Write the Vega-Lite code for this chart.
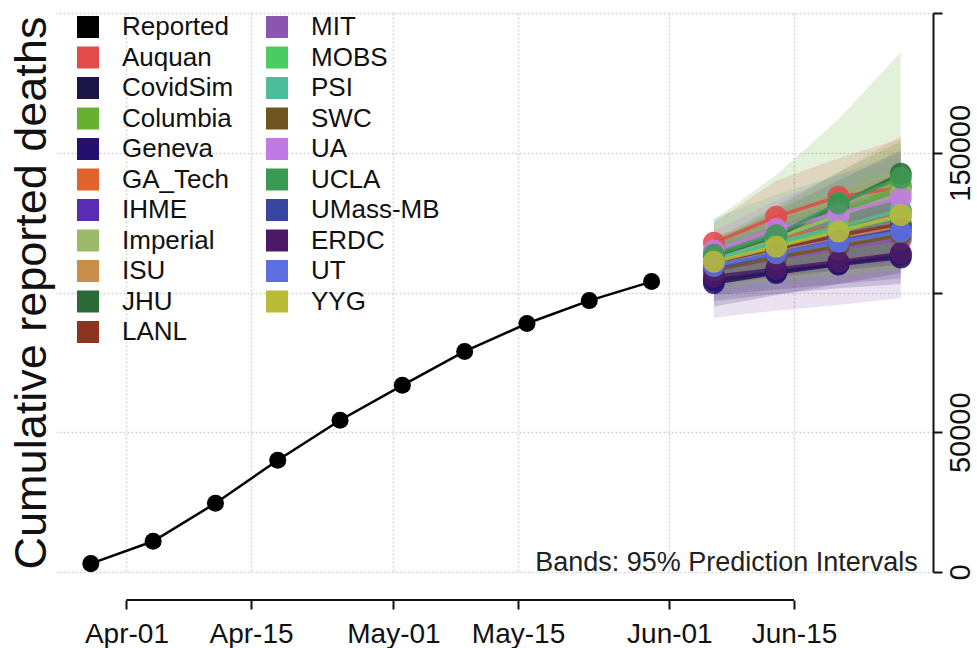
{
  "$schema": "https://vega.github.io/schema/vega-lite/v6.json",
  "width": 877,
  "height": 559,
  "autosize": {"type": "none"},
  "padding": {"left": 56, "top": 13, "right": 44, "bottom": 76},
  "background": "white",
  "config": {"view": {"stroke": null}, "font": "Liberation Sans"},
  "datasets": {
    "rows": [
      {"model": "Reported", "date": "2020-03-28", "mean": 3000},
      {"model": "Reported", "date": "2020-04-04", "mean": 11000},
      {"model": "Reported", "date": "2020-04-11", "mean": 24600},
      {"model": "Reported", "date": "2020-04-18", "mean": 40000},
      {"model": "Reported", "date": "2020-04-25", "mean": 54300},
      {"model": "Reported", "date": "2020-05-02", "mean": 66800},
      {"model": "Reported", "date": "2020-05-09", "mean": 78900},
      {"model": "Reported", "date": "2020-05-16", "mean": 88900},
      {"model": "Reported", "date": "2020-05-23", "mean": 97100},
      {"model": "Reported", "date": "2020-05-30", "mean": 103900},

      {"model": "Auquan", "date": "2020-06-06", "mean": 117800, "lo": 108000, "hi": 125000},
      {"model": "Auquan", "date": "2020-06-13", "mean": 127100, "lo": 113000, "hi": 140000},
      {"model": "Auquan", "date": "2020-06-20", "mean": 134300, "lo": 116000, "hi": 148000},
      {"model": "Auquan", "date": "2020-06-27", "mean": 137500, "lo": 118000, "hi": 155000},

      {"model": "CovidSim", "date": "2020-06-06", "mean": 104500, "lo": 95000, "hi": 112000},
      {"model": "CovidSim", "date": "2020-06-13", "mean": 107500, "lo": 99000, "hi": 118000},
      {"model": "CovidSim", "date": "2020-06-20", "mean": 110500, "lo": 103000, "hi": 124000},
      {"model": "CovidSim", "date": "2020-06-27", "mean": 113500, "lo": 107000, "hi": 130000},

      {"model": "Columbia", "date": "2020-06-06", "mean": 111000, "lo": 102000, "hi": 126000},
      {"model": "Columbia", "date": "2020-06-13", "mean": 119000, "lo": 106000, "hi": 142000},
      {"model": "Columbia", "date": "2020-06-20", "mean": 128000, "lo": 110000, "hi": 162000},
      {"model": "Columbia", "date": "2020-06-27", "mean": 138500, "lo": 113000, "hi": 186000},

      {"model": "Geneva", "date": "2020-06-06", "mean": 103400, "lo": 97000, "hi": 110000},
      {"model": "Geneva", "date": "2020-06-13", "mean": 107000, "lo": 99500, "hi": 115000},
      {"model": "Geneva", "date": "2020-06-20", "mean": 110000, "lo": 101500, "hi": 120000},
      {"model": "Geneva", "date": "2020-06-27", "mean": 112500, "lo": 103000, "hi": 124000},

      {"model": "GA_Tech", "date": "2020-06-06", "mean": 112500, "lo": 106000, "hi": 119000},
      {"model": "GA_Tech", "date": "2020-06-13", "mean": 119000, "lo": 110000, "hi": 128000},
      {"model": "GA_Tech", "date": "2020-06-20", "mean": 124000, "lo": 113000, "hi": 136000},
      {"model": "GA_Tech", "date": "2020-06-27", "mean": 129000, "lo": 116000, "hi": 143000},

      {"model": "IHME", "date": "2020-06-06", "mean": 110000, "lo": 104000, "hi": 117000},
      {"model": "IHME", "date": "2020-06-13", "mean": 115000, "lo": 107000, "hi": 124000},
      {"model": "IHME", "date": "2020-06-20", "mean": 119500, "lo": 109000, "hi": 131000},
      {"model": "IHME", "date": "2020-06-27", "mean": 123500, "lo": 111000, "hi": 138000},

      {"model": "Imperial", "date": "2020-06-06", "mean": 112000, "lo": 106000, "hi": 118000},
      {"model": "Imperial", "date": "2020-06-13", "mean": 119500, "lo": 110000, "hi": 130000},
      {"model": "Imperial", "date": "2020-06-20", "mean": 127500, "lo": 114000, "hi": 140000},
      {"model": "Imperial", "date": "2020-06-27", "mean": 135500, "lo": 117000, "hi": 150000},

      {"model": "ISU", "date": "2020-06-06", "mean": 109500, "lo": 102000, "hi": 118000},
      {"model": "ISU", "date": "2020-06-13", "mean": 114500, "lo": 105000, "hi": 130000},
      {"model": "ISU", "date": "2020-06-20", "mean": 119000, "lo": 108000, "hi": 143000},
      {"model": "ISU", "date": "2020-06-27", "mean": 124000, "lo": 110000, "hi": 156000},

      {"model": "JHU", "date": "2020-06-06", "mean": 113000, "lo": 107000, "hi": 118000},
      {"model": "JHU", "date": "2020-06-13", "mean": 120000, "lo": 112000, "hi": 129000},
      {"model": "JHU", "date": "2020-06-20", "mean": 131500, "lo": 117000, "hi": 140000},
      {"model": "JHU", "date": "2020-06-27", "mean": 142500, "lo": 121000, "hi": 151000},

      {"model": "LANL", "date": "2020-06-06", "mean": 111000, "lo": 106000, "hi": 116000},
      {"model": "LANL", "date": "2020-06-13", "mean": 116000, "lo": 109000, "hi": 123000},
      {"model": "LANL", "date": "2020-06-20", "mean": 120500, "lo": 112000, "hi": 130000},
      {"model": "LANL", "date": "2020-06-27", "mean": 124500, "lo": 114000, "hi": 136000},

      {"model": "MIT", "date": "2020-06-06", "mean": 108000, "lo": 91000, "hi": 120000},
      {"model": "MIT", "date": "2020-06-13", "mean": 112000, "lo": 93500, "hi": 126000},
      {"model": "MIT", "date": "2020-06-20", "mean": 115500, "lo": 95500, "hi": 132000},
      {"model": "MIT", "date": "2020-06-27", "mean": 119000, "lo": 98000, "hi": 138000},

      {"model": "MOBS", "date": "2020-06-06", "mean": 111500, "lo": 106000, "hi": 117000},
      {"model": "MOBS", "date": "2020-06-13", "mean": 117000, "lo": 110000, "hi": 124000},
      {"model": "MOBS", "date": "2020-06-20", "mean": 122500, "lo": 113000, "hi": 132000},
      {"model": "MOBS", "date": "2020-06-27", "mean": 127000, "lo": 116000, "hi": 139000},

      {"model": "PSI", "date": "2020-06-06", "mean": 112000, "lo": 100000, "hi": 126500},
      {"model": "PSI", "date": "2020-06-13", "mean": 118000, "lo": 103000, "hi": 135000},
      {"model": "PSI", "date": "2020-06-20", "mean": 123500, "lo": 106000, "hi": 142000},
      {"model": "PSI", "date": "2020-06-27", "mean": 129500, "lo": 108000, "hi": 148000},

      {"model": "SWC", "date": "2020-06-06", "mean": 108000, "lo": 103000, "hi": 113000},
      {"model": "SWC", "date": "2020-06-13", "mean": 112500, "lo": 106000, "hi": 119000},
      {"model": "SWC", "date": "2020-06-20", "mean": 116500, "lo": 108000, "hi": 125000},
      {"model": "SWC", "date": "2020-06-27", "mean": 120500, "lo": 110000, "hi": 131000},

      {"model": "UA", "date": "2020-06-06", "mean": 115000, "lo": 108000, "hi": 122000},
      {"model": "UA", "date": "2020-06-13", "mean": 122700, "lo": 112000, "hi": 133000},
      {"model": "UA", "date": "2020-06-20", "mean": 128400, "lo": 115000, "hi": 142000},
      {"model": "UA", "date": "2020-06-27", "mean": 133800, "lo": 118000, "hi": 150000},

      {"model": "UCLA", "date": "2020-06-06", "mean": 113500, "lo": 109000, "hi": 119000},
      {"model": "UCLA", "date": "2020-06-13", "mean": 120500, "lo": 115000, "hi": 131000},
      {"model": "UCLA", "date": "2020-06-20", "mean": 132000, "lo": 121000, "hi": 143000},
      {"model": "UCLA", "date": "2020-06-27", "mean": 141000, "lo": 126000, "hi": 154000},

      {"model": "UMass-MB", "date": "2020-06-06", "mean": 109000, "lo": 103000, "hi": 115000},
      {"model": "UMass-MB", "date": "2020-06-13", "mean": 114000, "lo": 105500, "hi": 123000},
      {"model": "UMass-MB", "date": "2020-06-20", "mean": 118500, "lo": 108000, "hi": 130000},
      {"model": "UMass-MB", "date": "2020-06-27", "mean": 122500, "lo": 110000, "hi": 137000},

      {"model": "ERDC", "date": "2020-06-06", "mean": 105700, "lo": 99000, "hi": 112000},
      {"model": "ERDC", "date": "2020-06-13", "mean": 108400, "lo": 101000, "hi": 116000},
      {"model": "ERDC", "date": "2020-06-20", "mean": 111000, "lo": 103000, "hi": 120000},
      {"model": "ERDC", "date": "2020-06-27", "mean": 114000, "lo": 105000, "hi": 124000},

      {"model": "UT", "date": "2020-06-06", "mean": 109500, "lo": 104000, "hi": 115000},
      {"model": "UT", "date": "2020-06-13", "mean": 114000, "lo": 107000, "hi": 121000},
      {"model": "UT", "date": "2020-06-20", "mean": 118200, "lo": 109000, "hi": 127000},
      {"model": "UT", "date": "2020-06-27", "mean": 121800, "lo": 111000, "hi": 133000},

      {"model": "YYG", "date": "2020-06-06", "mean": 111000, "lo": 102000, "hi": 120000},
      {"model": "YYG", "date": "2020-06-13", "mean": 116400, "lo": 104000, "hi": 128000},
      {"model": "YYG", "date": "2020-06-20", "mean": 121800, "lo": 106000, "hi": 136000},
      {"model": "YYG", "date": "2020-06-27", "mean": 127700, "lo": 108000, "hi": 145000}
    ]
  },
  "data": {"name": "rows", "format": {"parse": {"date": "utc:'%Y-%m-%d'"}}},
  "resolve": {"axis": {"y": "independent"}},
  "layer": [
    {
      "transform": [{"filter": "datum.model !== 'Reported'"}],
      "mark": {"type": "area", "fillOpacity": 0.18},
      "encoding": {
        "x": {
          "field": "date", "type": "temporal",
          "scale": {"type": "utc", "domain": [
            {"year": 2020, "month": 3, "date": 24, "hours": 2, "minutes": 6, "utc": true},
            {"year": 2020, "month": 6, "date": 30, "hours": 14, "minutes": 50, "utc": true}
          ], "nice": false},
          "axis": {
            "orient": "bottom", "title": null,
            "values": [
              {"year": 2020, "month": 4, "date": 1, "utc": true},
              {"year": 2020, "month": 4, "date": 15, "utc": true},
              {"year": 2020, "month": 5, "date": 1, "utc": true},
              {"year": 2020, "month": 5, "date": 15, "utc": true},
              {"year": 2020, "month": 6, "date": 1, "utc": true},
              {"year": 2020, "month": 6, "date": 15, "utc": true}
            ],
            "labelExpr": "utcFormat(datum.value, '%b-%d')",
            "offset": 28, "domain": false,
            "tickSize": 9, "tickWidth": 2, "tickColor": "#111",
            "labelFontSize": 28, "labelColor": "#111", "labelPadding": 11,
            "labelOverlap": false, "labelFlush": false,
            "grid": true, "gridColor": "#d4d4d4", "gridDash": [2, 2], "gridWidth": 1.5
          }
        },
        "y": {
          "field": "lo", "type": "quantitative",
          "scale": {"domain": [0, 200000], "nice": false, "zero": false},
          "axis": {
            "orient": "right", "title": null,
            "values": [0, 50000, 100000, 150000, 200000],
            "format": "d",
            "labelExpr": "datum.value == 100000 || datum.value == 200000 ? '' : datum.label",
            "domain": true, "domainColor": "#111", "domainWidth": 2,
            "tickSize": 9, "tickWidth": 2, "tickColor": "#111",
            "labelAngle": -90, "labelAlign": "center", "labelBaseline": "top",
            "labelPadding": 4, "labelFontSize": 29, "labelColor": "#111",
            "labelOverlap": false, "labelFlush": false,
            "grid": true, "gridColor": "#d4d4d4", "gridDash": [2, 2], "gridWidth": 1.5
          }
        },
        "y2": {"field": "hi"},
        "color": {
          "field": "model", "type": "nominal",
          "scale": {
            "domain": ["Reported", "Auquan", "CovidSim", "Columbia", "Geneva", "GA_Tech", "IHME", "Imperial", "ISU", "JHU", "LANL", "MIT", "MOBS", "PSI", "SWC", "UA", "UCLA", "UMass-MB", "ERDC", "UT", "YYG"],
            "range": ["#000000", "#e34a4a", "#1b1646", "#66b032", "#24106e", "#e0622c", "#5a2cb4", "#9bbb6a", "#c98f4a", "#2c6b38", "#8c3220", "#8a56b0", "#4ccb62", "#4cbd9b", "#6e5520", "#c07ae6", "#3b9a52", "#37469f", "#4b1a66", "#5b6fe0", "#b9ba36"]
          },
          "legend": {
            "orient": "none", "legendX": 19, "legendY": 1, "columns": 2,
            "title": null, "symbolType": "square", "symbolSize": 484,
            "symbolStrokeWidth": 0, "symbolOpacity": 1, "symbolFillOpacity": 1,
            "labelFontSize": 26, "labelColor": "#111", "labelOffset": 21,
            "labelLimit": 300, "rowPadding": 4.5, "columnPadding": 30, "padding": 0,
            "encode": {"symbols": {"update": {"opacity": {"value": 1}, "fillOpacity": {"value": 1}, "strokeWidth": {"value": 0}}}}
          }
        }
      }
    },
    {
      "transform": [{"filter": "datum.model !== 'Reported'"}],
      "mark": {"type": "line", "strokeWidth": 3.5, "opacity": 0.85},
      "encoding": {
        "x": {"field": "date", "type": "temporal"},
        "y": {
          "field": "mean", "type": "quantitative",
          "axis": {
            "orient": "left", "title": "Cumulative reported deaths",
            "labels": false, "ticks": false, "domain": false, "grid": false,
            "titleFontSize": 45, "titleFontWeight": "normal", "titleColor": "#111",
            "titlePadding": 2
          }
        },
        "color": {"field": "model", "type": "nominal"}
      }
    },
    {
      "transform": [{"filter": "datum.model !== 'Reported'"}],
      "mark": {"type": "circle", "size": 480, "opacity": 0.88},
      "encoding": {
        "x": {"field": "date", "type": "temporal"},
        "y": {"field": "mean", "type": "quantitative", "axis": null},
        "color": {"field": "model", "type": "nominal"}
      }
    },
    {
      "transform": [{"filter": "datum.model === 'Reported'"}],
      "mark": {"type": "line", "strokeWidth": 2.5, "color": "#000"},
      "encoding": {
        "x": {"field": "date", "type": "temporal"},
        "y": {"field": "mean", "type": "quantitative", "axis": null}
      }
    },
    {
      "transform": [{"filter": "datum.model === 'Reported'"}],
      "mark": {"type": "circle", "size": 290, "opacity": 1, "color": "#000"},
      "encoding": {
        "x": {"field": "date", "type": "temporal"},
        "y": {"field": "mean", "type": "quantitative", "axis": null}
      }
    },
    {
      "data": {"values": [{}]},
      "mark": {"type": "text", "text": "Bands: 95% Prediction Intervals", "align": "right", "baseline": "middle", "fontSize": 27, "color": "#222"},
      "encoding": {
        "x": {"datum": {"year": 2020, "month": 6, "date": 28, "hours": 22, "utc": true}, "type": "temporal"},
        "y": {"datum": 3200, "type": "quantitative", "axis": null}
      }
    },
    {
      "data": {"values": [{}]},
      "mark": {"type": "rule", "strokeWidth": 2, "color": "#111"},
      "encoding": {
        "x": {"datum": {"year": 2020, "month": 4, "date": 1, "utc": true}, "type": "temporal"},
        "x2": {"datum": {"year": 2020, "month": 6, "date": 15, "utc": true}},
        "y": {"datum": -10000, "type": "quantitative", "axis": null}
      }
    }
  ]
}
